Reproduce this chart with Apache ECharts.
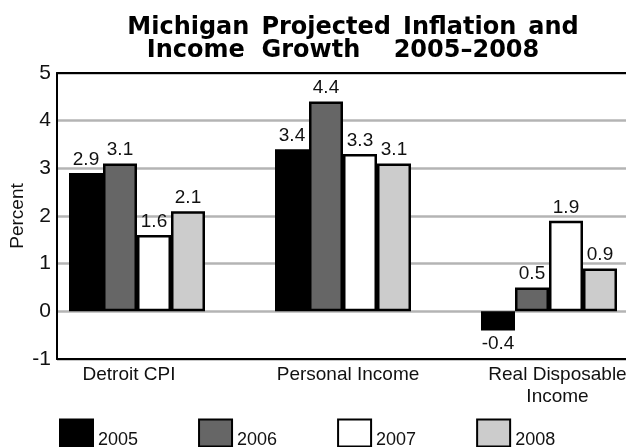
<!DOCTYPE html>
<html>
<head>
<meta charset="utf-8">
<script src="https://cdn.jsdelivr.net/npm/echarts@6/dist/echarts.min.js"></script>
<style>html,body{margin:0;padding:0;background:#fff}#c{width:626px;height:447px}</style>
</head>
<body>
<div id="c"></div>
<script>
const categories = ['Detroit CPI', 'Personal Income', 'Real Disposable\nIncome'];
const years = ['2005', '2006', '2007', '2008'];
const v2005 = [2.9, 3.4, -0.4];
const v2006 = [3.1, 4.4, 0.5];
const v2007 = [1.6, 3.3, 1.9];
const v2008 = [2.1, 3.1, 0.9];
const yMin = -1, yMax = 5, yStep = 1;

const FONT = "'Liberation Sans', Arial, sans-serif";
const colors = ['#000000', '#666666', '#ffffff', '#cccccc'];
const seriesValues = [v2005, v2006, v2007, v2008];
const catShift = { 'Detroit CPI': 'l', 'Personal Income': 'm', 'Real Disposable\nIncome': 'r' };

const chart = echarts.init(document.getElementById('c'), null, { renderer: 'canvas' });
const series = years.map((y, i) => ({
  name: y,
  type: 'bar',
  xAxisIndex: 2,
  yAxisIndex: 1,
  barWidth: 34,
  barGap: '0%',
  itemStyle: { color: colors[i], borderColor: '#000', borderWidth: 2.5 },
  label: {
    show: true, position: 'top', distance: 4,
    fontFamily: FONT, fontSize: 19, color: '#111',
    formatter: p => p.value.toFixed(1)
  },
  data: seriesValues[i].map(v => v < 0 ? { value: v, label: { position: 'bottom', distance: 4 } } : v)
}));

chart.setOption({
  animation: false,
  backgroundColor: '#fff',
  title: [
    { text: 'Michigan\u2002Projected\u2002Inflation\u2002and', left: 348, top: 11, textAlign: 'center',
      textStyle: { fontFamily: "'DejaVu Sans', sans-serif", fontWeight: 'bold', fontSize: 24, color: '#000' } },
    { text: 'Income  Growth    2005\u20132008', left: 338, top: 34, textAlign: 'center',
      textStyle: { fontFamily: "'DejaVu Sans', sans-serif", fontWeight: 'bold', fontSize: 24, color: '#000' } }
  ],
  legend: {
    data: years, left: 54, top: 412, itemWidth: 33, itemHeight: 27, itemGap: 60, icon: 'rect',
    formatter: n => '{s|}\n{t|' + n + '}',
    textStyle: {
      fontFamily: FONT, fontSize: 18, color: '#111',
      rich: {
        s: { fontSize: 14, lineHeight: 14, height: 14 },
        t: { fontFamily: FONT, fontSize: 18, lineHeight: 18, color: '#111' }
      }
    }
  },
  grid: [
    { left: 57, right: 0, top: 73, bottom: 88, containLabel: false, outerBoundsMode: 'none' },
    { left: 34, width: 618, top: 73, bottom: 88, containLabel: false, outerBoundsMode: 'none' }
  ],
  xAxis: [
    { gridIndex: 0, type: 'value', min: 0, max: 1, position: 'bottom',
      axisLine: { show: true, onZero: false, lineStyle: { color: '#000', width: 2 } },
      axisTick: { show: false }, axisLabel: { show: false }, splitLine: { show: false } },
    { gridIndex: 0, type: 'value', min: 0, max: 1, position: 'top',
      axisLine: { show: true, onZero: false, lineStyle: { color: '#000', width: 2 } },
      axisTick: { show: false }, axisLabel: { show: false }, splitLine: { show: false } },
    { gridIndex: 1, type: 'category', data: categories,
      axisLine: { show: false, onZero: false }, axisTick: { show: false }, splitLine: { show: false },
      axisLabel: {
        margin: 5, interval: 0,
        formatter: v => v.split('\n').map(s => '{' + catShift[v] + '|' + s + '}').join('\n'),
        rich: {
          l: { fontFamily: FONT, fontSize: 19, color: '#111', lineHeight: 22, padding: [0, 16, 0, 0] },
          m: { fontFamily: FONT, fontSize: 19, color: '#111', lineHeight: 22, padding: [0, 0, 0, 10] },
          r: { fontFamily: FONT, fontSize: 19, color: '#111', lineHeight: 22, padding: [0, 0, 0, 17] }
        }
      } }
  ],
  yAxis: [
    { gridIndex: 0, type: 'value', min: yMin, max: yMax, interval: yStep,
      name: 'Percent', nameLocation: 'middle', nameGap: 30, nameRotate: 90, nameMoveOverlap: false,
      nameTextStyle: { fontFamily: FONT, fontSize: 19, color: '#111' },
      axisLine: { show: true, onZero: false, lineStyle: { color: '#000', width: 2 } },
      axisTick: { show: false },
      axisLabel: { fontFamily: FONT, fontSize: 21, color: '#111', margin: 6 },
      splitLine: { show: true, lineStyle: { color: '#b4b4b4', width: 2.5 } } },
    { gridIndex: 1, type: 'value', min: yMin, max: yMax, interval: yStep, show: false,
      splitLine: { show: false } }
  ],
  series: series
});
</script>
</body>
</html>
